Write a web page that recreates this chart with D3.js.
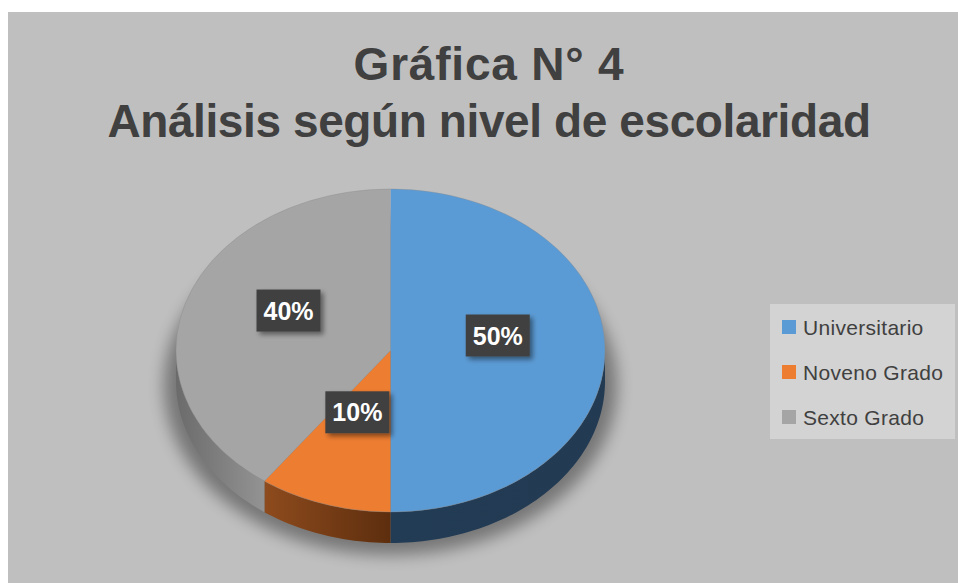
<!DOCTYPE html>
<html>
<head>
<meta charset="utf-8">
<script src="https://cdn.jsdelivr.net/npm/d3@7"></script>
<style>
  body { margin: 0; background: #fff; }
  text { font-family: "Liberation Sans", Arial, sans-serif; }
</style>
</head>
<body>
<script>
w = 958;
h = 583;

const categories = ["Universitario", "Noveno Grado", "Sexto Grado"];
const values = [50, 10, 40];
const titleLines = ["Gráfica N° 4", "Análisis según nivel de escolaridad"];
const topColors = ["#5b9bd5", "#ed7d31", "#a5a5a5"];
const sideColors = [["#233c55", "#223a52"], ["#8e4b1d", "#5d2e0e"], ["#6b6b6b", "#939393"]];

const cx = 390.5, cy = 350.5, rx = 214.5, ry = 161.5, depth = 31;

let svg = d3.select('body')
  .append('svg')
  .attr('width', w)
  .attr('height', h);

let defs = svg.append('defs');
defs.append('filter').attr('id', 'blur')
  .attr('x', '-30%').attr('y', '-30%').attr('width', '160%').attr('height', '160%')
  .append('feGaussianBlur').attr('stdDeviation', 8);
defs.append('filter').attr('id', 'drop')
  .attr('x', '-30%').attr('y', '-30%').attr('width', '160%').attr('height', '160%')
  .append('feDropShadow')
  .attr('dx', 3).attr('dy', 3).attr('stdDeviation', 2.5)
  .attr('flood-color', '#000').attr('flood-opacity', 0.45);

sideColors.forEach((c, i) => {
  let g = defs.append('linearGradient').attr('id', 'side' + i);
  g.append('stop').attr('offset', '0%').attr('stop-color', c[0]);
  g.append('stop').attr('offset', '100%').attr('stop-color', c[1]);
});

// background
svg.append('rect')
  .attr('x', 8).attr('y', 12)
  .attr('width', w - 8).attr('height', h - 12)
  .attr('fill', '#bfbfbf');

// title
svg.selectAll('text.title')
  .data(titleLines)
  .enter()
  .append('text')
  .attr('class', 'title')
  .attr('x', 489)
  .attr('y', (d, i) => 80 + i * 57)
  .attr('text-anchor', 'middle')
  .attr('font-size', '46px')
  .attr('font-weight', 'bold')
  .attr('letter-spacing', (d, i) => i === 0 ? '0.8px' : '-0.4px')
  .attr('fill', '#404040')
  .text(d => d);

// pie
let pie = d3.pie().sort(null).value(d => d);
let arcs = pie(values);

function proj(a, dy = 0) {
  return [cx + rx * Math.sin(a), cy - ry * Math.cos(a) + dy];
}
function arcPts(a0, a1, dy = 0) {
  let n = Math.max(2, Math.ceil((a1 - a0) * 40));
  return d3.range(n + 1).map(i => proj(a0 + (a1 - a0) * i / n, dy));
}
let line = d3.line();

// soft shadow under the pie
svg.append('ellipse')
  .attr('cx', cx).attr('cy', cy + depth + 4)
  .attr('rx', rx + 12).attr('ry', ry + 8)
  .attr('fill', '#000').attr('opacity', 0.38)
  .attr('filter', 'url(#blur)');

// side walls (front half only)
svg.selectAll('path.side')
  .data(arcs)
  .enter()
  .append('path')
  .attr('class', 'side')
  .attr('d', d => {
    let s0 = Math.max(d.startAngle, Math.PI / 2);
    let s1 = Math.min(d.endAngle, Math.PI * 1.5);
    if (s1 <= s0) return null;
    let pts = arcPts(s0, s1).concat(arcPts(s0, s1, depth).reverse());
    return line(pts) + 'Z';
  })
  .attr('fill', (d, i) => 'url(#side' + i + ')');

// top faces
svg.selectAll('path.top')
  .data(arcs)
  .enter()
  .append('path')
  .attr('class', 'top')
  .attr('d', d => line([[cx, cy]].concat(arcPts(d.startAngle, d.endAngle))) + 'Z')
  .attr('fill', (d, i) => topColors[i]);

svg.append('ellipse')
  .attr('cx', cx).attr('cy', cy)
  .attr('rx', rx).attr('ry', ry)
  .attr('fill', 'none')
  .attr('stroke', '#8a8a8a')
  .attr('stroke-width', 0.6)
  .attr('opacity', 0.6);

// data labels
let total = d3.sum(values);
let lab = svg.selectAll('g.lab')
  .data(arcs)
  .enter()
  .append('g')
  .attr('class', 'lab')
  .attr('transform', d => {
    let m = (d.startAngle + d.endAngle) / 2;
    return `translate(${cx + 0.5 * rx * Math.sin(m)}, ${cy - 0.5 * ry * Math.cos(m) - 15})`;
  });
lab.append('rect')
  .attr('x', -32).attr('y', -21)
  .attr('width', 64).attr('height', 42)
  .attr('fill', '#404040')
  .attr('filter', 'url(#drop)');
lab.append('text')
  .attr('text-anchor', 'middle')
  .attr('y', 9)
  .attr('font-size', '25px')
  .attr('font-weight', 'bold')
  .attr('fill', '#fff')
  .text(d => Math.round(d.value / total * 100) + '%');

// legend
let legend = svg.append('g');
legend.append('rect')
  .attr('x', 770).attr('y', 304)
  .attr('width', 185).attr('height', 135)
  .attr('fill', '#d3d3d3');

let rowY = d3.scalePoint()
  .domain(categories)
  .range([327, 417]);

let item = legend.selectAll('g.item')
  .data(categories)
  .enter()
  .append('g')
  .attr('class', 'item')
  .attr('transform', d => `translate(782, ${rowY(d)})`);
item.append('rect')
  .attr('y', -7)
  .attr('width', 14).attr('height', 14)
  .attr('fill', (d, i) => topColors[i]);
item.append('text')
  .attr('x', 21)
  .attr('y', 7.5)
  .attr('font-size', '21px')
  .attr('letter-spacing', '0.3px')
  .attr('fill', '#404040')
  .text(d => d);
</script>
</body>
</html>
